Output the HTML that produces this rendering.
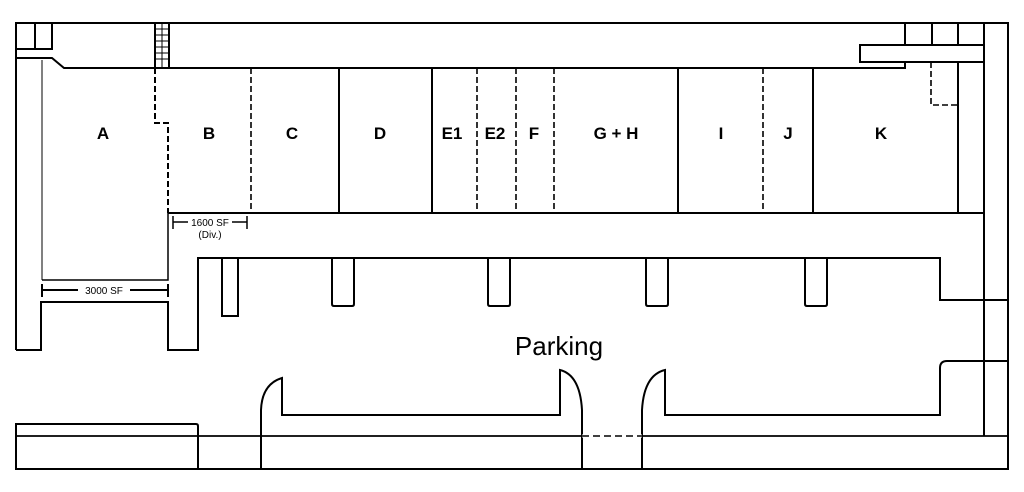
<!DOCTYPE html>
<html><head><meta charset="utf-8"><style>
html,body{margin:0;padding:0;background:#fff;}
svg{display:block;}
.l{font-family:"Liberation Sans",sans-serif;font-weight:bold;font-size:17px;text-anchor:middle;fill:#000;}
.s{font-family:"Liberation Sans",sans-serif;font-size:10px;text-anchor:middle;fill:#000;}
</style></head><body>
<svg width="1024" height="492" viewBox="0 0 1024 492" xmlns="http://www.w3.org/2000/svg">
<g fill="none" stroke="#000" stroke-width="2">
<!-- outer frame -->
<path d="M16 350 V23 H1008 V469 H16 V424 H196 Q198 424 198 426 V469"/>
<line x1="16" y1="436" x2="1008" y2="436" stroke-width="1.8"/>
<line x1="984" y1="23" x2="984" y2="436"/>
<!-- top left boxes -->
<path d="M16 49 H52 V23 M35 23 V49"/>
<path d="M16 58 H52 L64 68 H905 V62"/>
<!-- stairs -->
<rect x="155" y="23" width="14" height="45"/>
<g stroke-width="1">
<line x1="162" y1="23" x2="162" y2="68"/>
<line x1="155" y1="29" x2="169" y2="29"/><line x1="155" y1="35" x2="169" y2="35"/>
<line x1="155" y1="41" x2="169" y2="41"/><line x1="155" y1="47" x2="169" y2="47"/>
<line x1="155" y1="53" x2="169" y2="53"/><line x1="155" y1="59" x2="169" y2="59"/>
</g>
<!-- left A -->
<line x1="42" y1="60" x2="42" y2="280" stroke-width="1"/>
<path d="M42 280 H168 V213" stroke-width="1.5"/>
<path d="M155 68 V123 H168 V213" stroke-dasharray="6,3"/>
<path d="M16 350 H41 V302 H168 V350 H198 V258 H940 V300 H1008"/>
<!-- 3000 SF dimension -->
<path d="M42 284 V297 M168 284 V297 M42 290 H78 M130 290 H168"/>
<!-- units -->
<path d="M168 213 H984"/>
<g stroke-dasharray="6,3" stroke-width="1.6">
<line x1="251" y1="68" x2="251" y2="213"/>
<line x1="477" y1="68" x2="477" y2="213"/>
<line x1="516" y1="68" x2="516" y2="213"/>
<line x1="554" y1="68" x2="554" y2="213"/>
<line x1="763" y1="68" x2="763" y2="213"/>
<path d="M931 62 V105 H958"/>
</g>
<line x1="339" y1="68" x2="339" y2="213"/>
<line x1="432" y1="68" x2="432" y2="213"/>
<line x1="678" y1="68" x2="678" y2="213"/>
<line x1="813" y1="68" x2="813" y2="213"/>
<line x1="958" y1="62" x2="958" y2="213"/>
<!-- top right -->
<path d="M905 23 V45 M932 23 V45 M958 23 V45 M905 45 H984"/>
<rect x="860" y="45" width="124" height="17"/>
<!-- 1600 SF dim -->
<path d="M173 216 V229 M247 216 V229 M173 222 H188 M232 222 H247" stroke-width="1.5"/>
<!-- pillars -->
<rect x="222" y="258" width="16" height="58"/>
<path d="M332 258 V304 Q332 306 334 306 H352 Q354 306 354 304 V258"/>
<path d="M488 258 V304 Q488 306 490 306 H508 Q510 306 510 304 V258"/>
<path d="M646 258 V304 Q646 306 648 306 H666 Q668 306 668 304 V258"/>
<path d="M805 258 V304 Q805 306 807 306 H825 Q827 306 827 304 V258"/>
<!-- curbs -->
<path d="M261 469 V410 Q262 384 282 378 V415 H560 V370 Q580 375 582 410 V469"/>
<path d="M642 469 V410 Q644 375 665 370 V415 H940 V368 Q940 361 947 361 H1008"/>
<line x1="984" y1="300" x2="984" y2="436"/>
<line x1="582" y1="436" x2="642" y2="436" stroke="#fff" stroke-width="3"/>
<line x1="582" y1="436" x2="642" y2="436" stroke-dasharray="7,4" stroke-width="1.5"/>
</g>
<text class="l" x="103" y="139">A</text>
<text class="l" x="209" y="139">B</text>
<text class="l" x="292" y="139">C</text>
<text class="l" x="380" y="139">D</text>
<text class="l" x="452" y="139">E1</text>
<text class="l" x="495" y="139">E2</text>
<text class="l" x="534" y="139">F</text>
<text class="l" x="616" y="139">G + H</text>
<text class="l" x="721" y="139">I</text>
<text class="l" x="788" y="139">J</text>
<text class="l" x="881" y="139">K</text>
<text class="s" x="104" y="294">3000 SF</text>
<text class="s" x="210" y="226">1600 SF</text>
<text class="s" x="210" y="238">(Div.)</text>
<text x="559" y="355" style="font-family:'Liberation Sans',sans-serif;font-size:26px;text-anchor:middle">Parking</text>
</svg>
</body></html>
